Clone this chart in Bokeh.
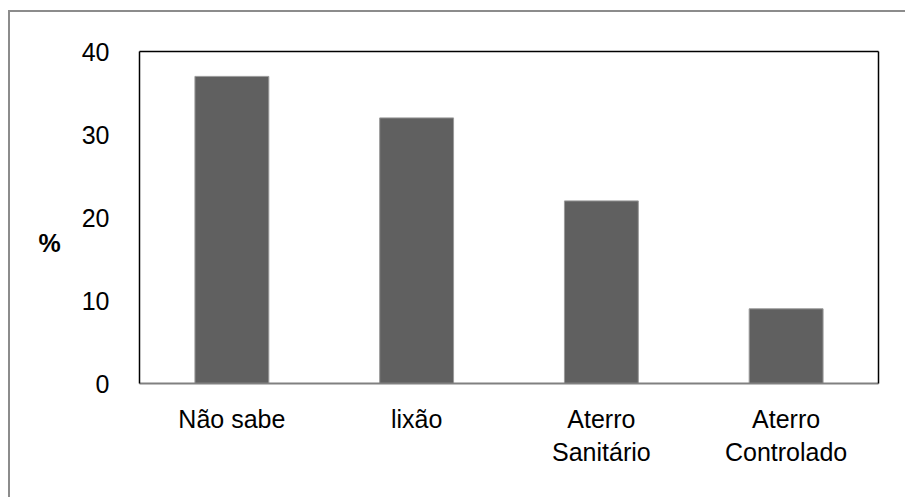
from bokeh.plotting import figure
from bokeh.models import (FactorRange, Range1d, LinearAxis, CategoricalAxis,
                          FixedTicker, ColumnDataSource)
from bokeh.embed import file_html
from bokeh.resources import INLINE

categories = ["Não sabe", "lixão", "Aterro\nSanitário", "Aterro\nControlado"]
values = [37, 32, 22, 9]
y_ticks = [0, 10, 20, 30, 40]
y_title = "%"

FONT = "Liberation Sans"
FS = "25px"

src = ColumnDataSource(data=dict(cat=categories, val=values))

p = figure(x_range=FactorRange(*categories), y_range=Range1d(0, 40),
           width=897, height=487, output_backend="svg", toolbar_location=None,
           min_border_left=129, min_border_top=39, min_border_right=29,
           min_border_bottom=116)
p.styles = {"border-left": "2px solid #8c8c8c", "border-top": "2px solid #8c8c8c",
            "margin-top": "10px", "margin-left": "8px"}
p.outline_line_color = None
p.xgrid.visible = False
p.ygrid.visible = False
p.background_fill_color = "white"
p.border_fill_color = "white"

p.vbar(x="cat", top="val", width=0.4, source=src, fill_color="#606060",
       line_color="#9a9a9a", line_width=1)

# bottom axis
xa = p.xaxis[0]
xa.axis_line_color = "#808080"
xa.axis_line_width = 2
xa.major_tick_line_color = None
xa.minor_tick_line_color = None
xa.major_label_text_font = FONT
xa.major_label_text_font_size = FS
xa.major_label_text_color = "black"
xa.major_label_standoff = 15

# left axis
ya = p.yaxis[0]
ya.ticker = FixedTicker(ticks=y_ticks)
ya.axis_line_color = "black"
ya.axis_line_width = 1.5
ya.major_tick_line_color = None
ya.minor_tick_line_color = None
ya.major_label_text_font = FONT
ya.major_label_text_font_size = FS
ya.major_label_text_color = "black"
ya.major_label_standoff = 24
ya.axis_label = " \n \n" + y_title
ya.axis_label_orientation = "horizontal"
ya.axis_label_text_font = FONT
ya.axis_label_text_font_size = FS
ya.axis_label_text_font_style = "bold"
ya.axis_label_text_color = "black"
ya.axis_label_text_line_height = 0.92
ya.axis_label_standoff = 18

# top and right frame lines
top = CategoricalAxis(axis_line_color="black", axis_line_width=1.5,
                      major_tick_line_color=None, minor_tick_line_color=None,
                      major_label_text_color=None, major_label_text_font_size="1px")
p.add_layout(top, "above")
right = LinearAxis(axis_line_color="black", axis_line_width=1.5,
                   major_tick_line_color=None, minor_tick_line_color=None,
                   major_label_text_color=None, major_label_text_font_size="1px")
p.add_layout(right, "right")

open("out.html", "w").write(file_html(p, INLINE))
